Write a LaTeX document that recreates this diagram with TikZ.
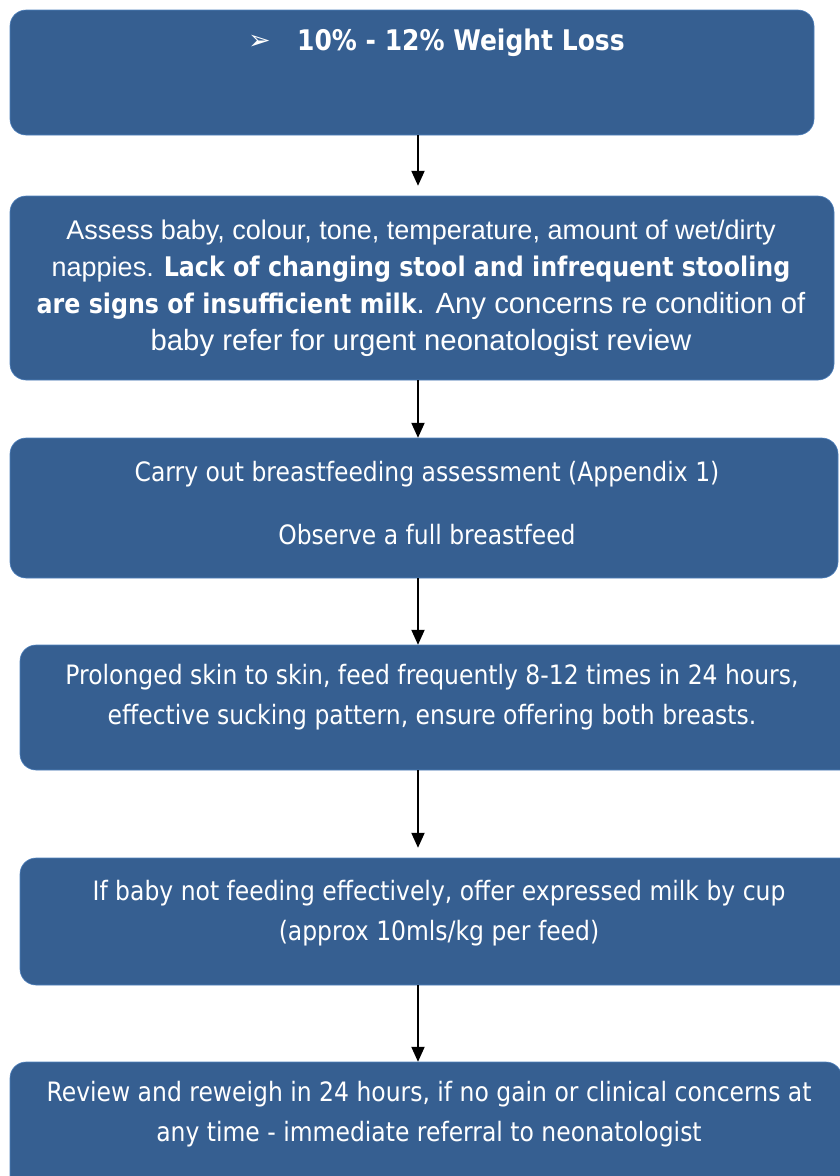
\documentclass[tikz,border=0pt]{standalone}
\usepackage{fontspec}
\usetikzlibrary{arrows.meta}
\setmainfont{Liberation Sans}
\newfontfamily\tah[FakeStretch=0.88]{DejaVu Sans}
\newfontfamily\ari{Liberation Sans}
\newfontfamily\dvsans{DejaVu Sans}
\definecolor{boxblue}{RGB}{54,95,145}
\definecolor{boxedge}{RGB}{79,129,189}
\newcommand{\biggerari}{\fontsize{29.3}{37}\selectfont}
\tikzset{
  box/.style={fill=boxblue, draw=boxedge, line width=0.6pt, rounded corners=16pt},
  txt/.style={text=white, align=center, inner sep=0pt},
  tahtxt/.style={txt, font=\tah\fontsize{26.67}{40}\selectfont},
  arr/.style={draw=black, line width=2pt, -{Triangle[width=13pt,length=15pt]}},
}
\begin{document}
\begin{tikzpicture}[x=1pt,y=-1pt]
\useasboundingbox (0,0) rectangle (840,1176);
\clip (0,0) rectangle (840,1176);
\fill[white] (0,0) rectangle (840,1176);
% boxes
\path[box] (10,10) rectangle (814,135);
\node[inner sep=0pt, minimum width=804pt, minimum height=125pt] (b1) at (412,72.5) {};
\path[box] (10,196) rectangle (834,380);
\node[inner sep=0pt, minimum width=824pt, minimum height=184pt] (b2) at (422,288) {};
\path[box] (10,438) rectangle (838,578);
\node[inner sep=0pt, minimum width=828pt, minimum height=140pt] (b3) at (424,508) {};
\path[box] (20,645) rectangle (862,770);
\node[inner sep=0pt, minimum width=842pt, minimum height=125pt] (b4) at (441,707.5) {};
\path[box] (20,858) rectangle (862,985);
\node[inner sep=0pt, minimum width=842pt, minimum height=127pt] (b5) at (441,921.5) {};
\path[box] (10,1062) rectangle (842,1200);
\node[inner sep=0pt, minimum width=832pt, minimum height=138pt] (b6) at (426,1131) {};
% texts
\node[txt, anchor=west, font=\dvsans\fontsize{27}{28}\selectfont] (t1b) at (248,42) {➢};
\node[txt, anchor=west, font=\tah\bfseries\fontsize{28.4}{32}\selectfont] (t1) at (297,43) {10\% - 12\% Weight Loss};
\node[txt, font=\ari\fontsize{27}{37}\selectfont] (t2) at (421,288) {%
Assess baby, colour, tone, temperature, amount of wet/dirty\\
nappies. {\tah\bfseries Lack of changing stool and infrequent stooling}\\
{\tah\bfseries are signs of insufficient milk}{\biggerari. Any concerns re condition of}\\
{\biggerari baby refer for urgent neonatologist review}};
\node[tahtxt] (t3) at (427,503) {%
Carry out breastfeeding assessment (Appendix 1)\\[23pt]
Observe a full breastfeed};
\node[tahtxt] (t4) at (432,697) {%
Prolonged skin to skin, feed frequently 8-12 times in 24 hours,\\
effective sucking pattern, ensure offering both breasts.};
\node[tahtxt] (t5) at (439,913.5) {%
If baby not feeding effectively, offer expressed milk by cup\\
(approx 10mls/kg per feed)};
\node[tahtxt] (t6) at (429,1114.5) {%
Review and reweigh in 24 hours, if no gain or clinical concerns at\\
any time - immediate referral to neonatologist};
% arrows
\coordinate (ax) at (418,0);
\draw[arr, shorten >=10pt] (b1.south -| ax) -- (b2.north -| ax);
\draw[arr] (b2.south -| ax) -- (b3.north -| ax);
\draw[arr] (b3.south -| ax) -- (b4.north -| ax);
\draw[arr, shorten >=10pt] (b4.south -| ax) -- (b5.north -| ax);
\draw[arr] (b5.south -| ax) -- (b6.north -| ax);
\end{tikzpicture}
\end{document}
